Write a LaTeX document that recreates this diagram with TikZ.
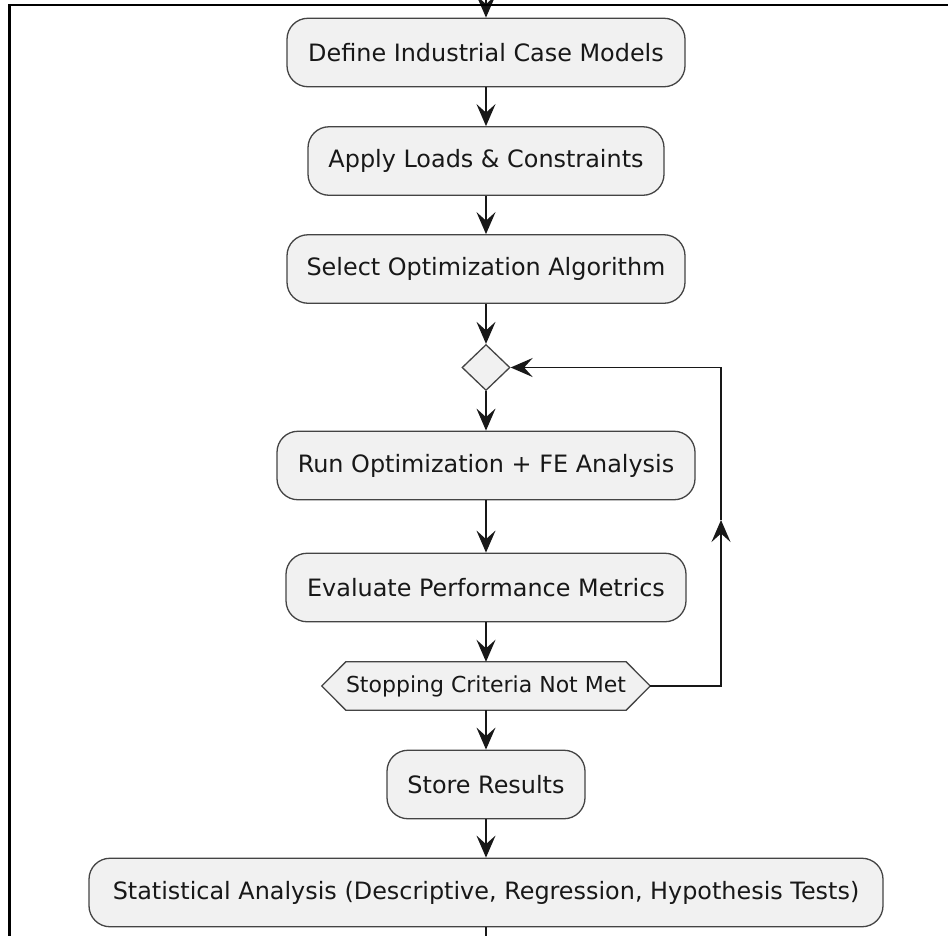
\documentclass[tikz,border=0pt]{standalone}
\usepackage{fontspec}
\setmainfont{DejaVu Sans}
\usetikzlibrary{arrows.meta,shapes.geometric}
\definecolor{boxfill}{HTML}{F1F1F1}
\definecolor{ink}{HTML}{181818}
\definecolor{edge}{HTML}{444444}
\pgfdeclarelayer{background}
\pgfsetlayers{background,main}
\begin{document}
\begin{tikzpicture}[x=1pt,y=-1pt,
  act/.style={draw=edge, line width=1.3pt, fill=boxfill, rounded corners=21pt,
    minimum height=68.5pt, inner sep=0pt, text=ink,
    font=\fontsize{23.9}{28}\selectfont},
  merge/.style={shape=diamond, draw=edge, line width=1.3pt, fill=boxfill,
    minimum width=48pt, minimum height=46pt, inner sep=0pt},
  hexlabel/.style={minimum width=328pt, minimum height=48pt, inner sep=0pt,
    text=ink, font=\fontsize{22}{26}\selectfont},
  hexshape/.style={draw=edge, line width=1.3pt, fill=boxfill},
  line/.style={draw=ink, line width=1.8pt},
  flow/.style={line, -{Stealth[length=22pt, width=19pt, inset=8.5pt]}},
  frame/.style={draw=black, line width=2.6pt}
]
\useasboundingbox (0,0) rectangle (948,935);
\clip (0,0) rectangle (948,935);

\node[act, minimum width=398pt] (n1) at (486,52.5) {Define Industrial Case Models};
\node[act, minimum width=356pt] (n2) at (486,161) {Apply Loads \& Constraints};
\node[act, minimum width=398pt] (n3) at (486,269) {Select Optimization Algorithm};
\node[merge] (dm) at (486,367.5) {};
\node[act, minimum width=418pt] (n4) at (486,465.5) {Run Optimization + FE Analysis};
\node[act, minimum width=400pt] (n5) at (486,587.5) {Evaluate Performance Metrics};
\node[hexlabel] (hx) at (486,686) {Stopping Criteria Not Met};
\node[act, minimum width=198pt] (n6) at (486,784.5) {Store Results};
\node[act, minimum width=794pt] (n7) at (486,892.5) {Statistical Analysis (Descriptive, Regression, Hypothesis Tests)};

\begin{pgfonlayer}{background}
\fill[white] (0,0) rectangle (948,935);
\draw[hexshape] (hx.west) -- ([xshift=24pt]hx.north west) -- ([xshift=-24pt]hx.north east)
  -- (hx.east) -- ([xshift=-24pt]hx.south east) -- ([xshift=24pt]hx.south west) -- cycle;
\end{pgfonlayer}

\coordinate (top) at (486,-20);
\coordinate (bot) at (486,960);
\coordinate (lp) at (721,520);

\draw[flow] (top) -- (n1.north);
\draw[flow] (n1.south) -- (n2.north);
\draw[flow] (n2.south) -- (n3.north);
\draw[flow] (n3.south) -- (dm.north);
\draw[flow] (dm.south) -- (n4.north);
\draw[flow] (n4.south) -- (n5.north);
\draw[flow] (n5.south) -- (hx.north);
\draw[flow] (hx.south) -- (n6.north);
\draw[flow] (n6.south) -- (n7.north);
\draw[line] (n7.south) -- (bot);
\draw[flow] (hx.east) -| (lp);
\draw[flow] (lp) |- (dm.east);

\draw[frame] (9.5,960) -- (9.5,5) -- (960,5);
\end{tikzpicture}
\end{document}
